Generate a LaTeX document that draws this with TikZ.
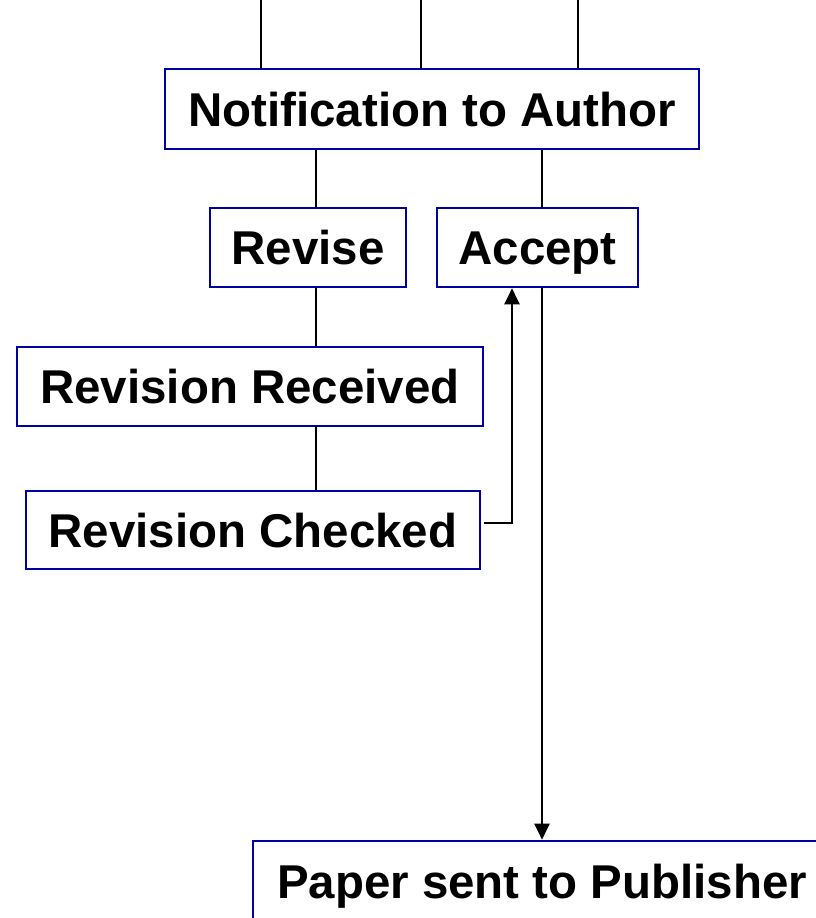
\documentclass[tikz,border=0pt]{standalone}
\usepackage{fontspec}
\setmainfont{Liberation Sans}
\usetikzlibrary{arrows.meta}
\definecolor{boxblue}{RGB}{0,0,160}
\tikzset{
  stage/.style={draw=boxblue, line width=1.5pt, fill=white, inner sep=0pt,
    text height=19.5pt, text depth=0pt,
    font=\fontsize{27}{32}\selectfont\bfseries},
  link/.style={line width=1.2pt},
  flow/.style={line width=1.2pt, -{Triangle[length=0.32cm, width=0.3cm]}}
}

\begin{document}
\begin{tikzpicture}
      \useasboundingbox (0, 0) rectangle (16.3, 18.36);
      % boxes
      \node[stage, minimum width=10.68cm, minimum height=1.6cm] (note) at (8.64, 16.18) {Notification to Author};
      \node[stage, minimum width=3.92cm, minimum height=1.58cm] (revise) at (6.16, 13.41) {Revise};
      \node[stage, minimum width=4.02cm, minimum height=1.58cm] (accept) at (10.75, 13.41) {Accept};
      \node[stage, minimum width=9.32cm, minimum height=1.58cm] (recd) at (5.0, 10.63) {Revision Received};
      \node[stage, minimum width=9.08cm, minimum height=1.56cm] (chkd) at (5.06, 7.76) {Revision Checked};
      \node[stage, minimum width=11.56cm, minimum height=1.6cm] (paper) at (10.84, 0.74) {Paper sent to Publisher};
      % incoming lines
      \coordinate (in1) at (5.22, 18.36);
      \coordinate (in2) at (8.42, 18.36);
      \coordinate (in3) at (11.56, 18.36);
      \draw[link] (in1) -- (in1 |- note.north);
      \draw[link] (in2) -- (in2 |- note.north);
      \draw[link] (in3) -- (in3 |- note.north);
      % revise branch
      \path (revise.north) ++(0.16, 0) coordinate (rv);
      \draw[link] (rv |- note.south) -- (rv |- revise.north);
      \draw[link] (rv |- revise.south) -- (rv |- recd.north);
      \draw[link] (rv |- recd.south) -- (rv |- chkd.north);
      \draw[flow] ([xshift=0.06cm, yshift=0.14cm]chkd.east) -| ([xshift=-0.51cm]accept.south);
      % accept branch
      \draw[link] (paper.north |- note.south) -- (paper.north |- accept.north);
      \draw[flow] (paper.north |- accept.south) -- (paper.north);
    \end{tikzpicture}
\end{document}
